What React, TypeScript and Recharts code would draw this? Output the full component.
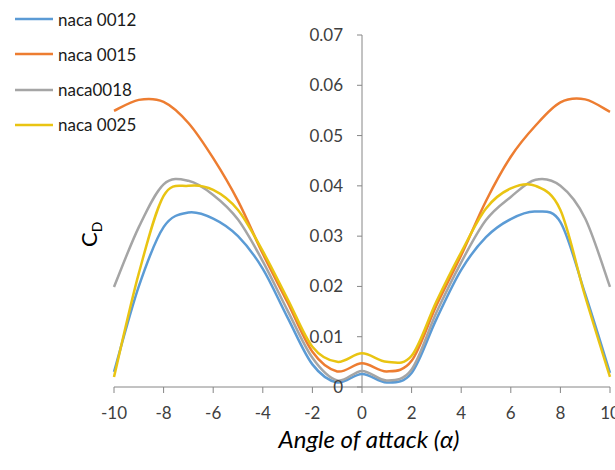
import { LineChart, Line, XAxis, YAxis, ReferenceLine, Legend } from "recharts";

// angle of attack, degrees
const alpha = [-10, -9, -8, -7, -6, -5, -4, -3, -2, -1, 0, 1, 2, 3, 4, 5, 6, 7, 8, 9, 10];

// drag coefficient C_D per profile
const naca0012 = [0.003, 0.02, 0.0318, 0.0347, 0.0335, 0.03, 0.0235, 0.0138, 0.0045, 0.0009, 0.0026, 0.0009, 0.0028, 0.0135, 0.0233, 0.0298, 0.0334, 0.0349, 0.0328, 0.0185, 0.0028];
const naca0015 = [0.0549, 0.0571, 0.0567, 0.0525, 0.0455, 0.037, 0.0265, 0.0168, 0.007, 0.0031, 0.0047, 0.0031, 0.0052, 0.0162, 0.0262, 0.037, 0.0458, 0.052, 0.0566, 0.0572, 0.0547];
const naca0018 = [0.0199, 0.0318, 0.0403, 0.041, 0.0382, 0.0333, 0.025, 0.0152, 0.0058, 0.0013, 0.0032, 0.0013, 0.0035, 0.0148, 0.0248, 0.0332, 0.0378, 0.0412, 0.04, 0.0335, 0.0199];
const naca0025 = [0.002, 0.0226, 0.038, 0.04, 0.0392, 0.0352, 0.027, 0.0175, 0.008, 0.005, 0.0067, 0.005, 0.0062, 0.017, 0.0268, 0.0355, 0.0395, 0.04, 0.0352, 0.018, 0.002];

const xTicks = [-10, -8, -6, -4, -2, 0, 2, 4, 6, 8, 10];
const yTicks = [0, 0.01, 0.02, 0.03, 0.04, 0.05, 0.06, 0.07];

const SERIES = [
  { key: "naca0012", name: "naca 0012", color: "#5B9BD5", values: naca0012 },
  { key: "naca0015", name: "naca 0015", color: "#ED7D31", values: naca0015 },
  { key: "naca0018", name: "naca0018", color: "#A5A5A5", values: naca0018 },
  { key: "naca0025", name: "naca 0025", color: "#E9C412", values: naca0025 },
];

const data = alpha.map((a, i) => {
  const row: Record<string, number> = { alpha: a };
  SERIES.forEach((s) => (row[s.key] = s.values[i]));
  return row;
});

const W = 615;
const H = 470;
const MARGIN = { top: 35, right: 5, left: 113, bottom: 0 };
const Y_AXIS_W = 1; // an axis of width 0 is not drawn at all
const X_AXIS_H = 83;
// the value axis crosses at alpha = 0, i.e. the middle of the plot
const PLOT_LEFT = MARGIN.left + Y_AXIS_W;
const AXIS_X = PLOT_LEFT + (W - PLOT_LEFT - MARGIN.right) / 2;
const AXIS_COLOR = "#868686";
const TEXT_COLOR = "#404040";

// Excel style smoothed line (Catmull-Rom through the points)
function excelSmooth(context: any) {
  let pts: number[][] = [];
  return {
    areaStart() {},
    areaEnd() {},
    lineStart() {
      pts = [];
    },
    point(x: number, y: number) {
      pts.push([+x, +y]);
    },
    lineEnd() {
      const n = pts.length;
      if (!n) return;
      context.moveTo(pts[0][0], pts[0][1]);
      for (let i = 0; i < n - 1; i++) {
        const p0 = pts[Math.max(i - 1, 0)];
        const p1 = pts[i];
        const p2 = pts[i + 1];
        const p3 = pts[Math.min(i + 2, n - 1)];
        context.bezierCurveTo(
          p1[0] + (p2[0] - p0[0]) / 6,
          p1[1] + (p2[1] - p0[1]) / 6,
          p2[0] - (p3[0] - p1[0]) / 6,
          p2[1] - (p3[1] - p1[1]) / 6,
          p2[0],
          p2[1]
        );
      }
    },
  };
}

function YTick({ y, payload }: any) {
  return (
    <g>
      <line x1={AXIS_X - 5} x2={AXIS_X} y1={y} y2={y} stroke={AXIS_COLOR} />
      <text x={AXIS_X - 19} y={y} dy="0.35em" textAnchor="end" fill={TEXT_COLOR} fontSize={17}>
        {String(payload.value)}
      </text>
    </g>
  );
}

function CdLabel() {
  return (
    <text transform="translate(97,247) rotate(-90)" fill="#000" fontSize={22}>
      C<tspan fontSize={14} dy={5}>D</tspan>
    </text>
  );
}

function AlphaLabel() {
  return (
    <text x={369} y={448} textAnchor="middle" fill="#000" fontSize={24} fontStyle="italic">
      Angle of attack (α)
    </text>
  );
}

function LegendBox() {
  return (
    <div style={{ position: "absolute", left: 0, top: 0 }}>
      {SERIES.map((s, i) => (
        <div
          key={s.key}
          style={{ position: "absolute", left: 15, top: 19 + i * 35.3 - 10, height: 20, display: "flex", alignItems: "center", whiteSpace: "nowrap" }}
        >
          <svg width={38} height={4} style={{ display: "block" }}>
            <line x1={0} x2={38} y1={2} y2={2} stroke={s.color} strokeWidth={2.5} />
          </svg>
          <span style={{ marginLeft: 5, fontSize: 17, color: "#1a1a1a" }}>{s.name}</span>
        </div>
      ))}
    </div>
  );
}

export default function App() {
  return (
    <div style={{ position: "absolute", left: 0, top: 0, width: W, height: H, fontFamily: "Lato, sans-serif", background: "#fff" }}>
      <LineChart width={W} height={H} data={data} margin={MARGIN}>
        <XAxis
          type="number"
          dataKey="alpha"
          domain={[-10, 10]}
          ticks={xTicks}
          interval={0}
          height={X_AXIS_H}
          stroke={AXIS_COLOR}
          tickSize={6}
          tickMargin={14}
          tick={{ fill: TEXT_COLOR, fontSize: 17 }}
          label={<AlphaLabel />}
        />
        <YAxis
          type="number"
          domain={[0, 0.07]}
          ticks={yTicks}
          interval={0}
          width={Y_AXIS_W}
          axisLine={false}
          tickLine={false}
          tick={<YTick />}
          label={<CdLabel />}
        />
        <ReferenceLine x={0} stroke={AXIS_COLOR} />
        <Legend
          layout="vertical"
          verticalAlign="top"
          align="left"
          wrapperStyle={{ left: 0, top: 0, width: 0, height: 0, overflow: "visible" }}
          content={<LegendBox />}
        />
        {SERIES.map((s) => (
          <Line
            key={s.key}
            type={excelSmooth as any}
            dataKey={s.key}
            name={s.name}
            stroke={s.color}
            strokeWidth={2.5}
            dot={false}
            isAnimationActive={false}
          />
        ))}
      </LineChart>
    </div>
  );
}
